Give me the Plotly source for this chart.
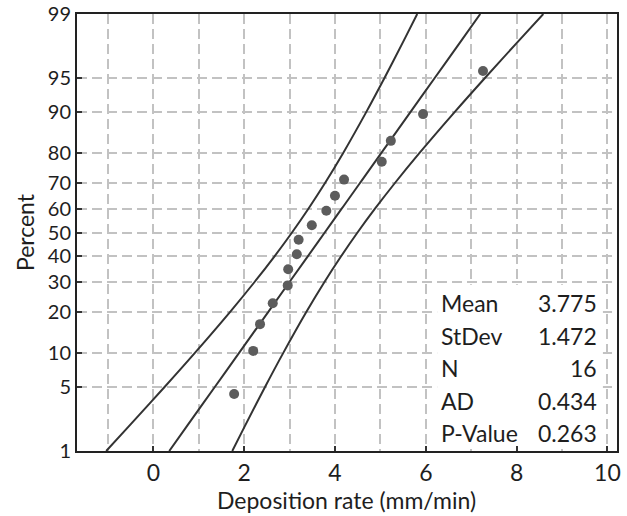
import plotly.graph_objects as go
from statistics import NormalDist

# ---- data ----
rate = [1.78, 2.20, 2.35, 2.63, 2.96, 2.97, 3.16, 3.20, 3.49, 3.81, 4.00, 4.20, 5.03, 5.23, 5.94, 7.26]
pct = [4.27, 10.37, 16.46, 22.56, 28.66, 34.76, 40.85, 46.95, 53.05, 59.15, 65.24, 71.34, 77.44, 83.54, 89.63, 95.73]

band_pct = [1, 2, 5, 10, 20, 30, 40, 50, 60, 70, 80, 90, 95, 98, 99]
fit_x = [0.351, 0.752, 1.354, 1.889, 2.536, 3.003, 3.402, 3.775, 4.148, 4.547, 5.014, 5.661, 6.196, 6.798, 7.199]
lower_x = [-1.037, -0.520, 0.248, 0.916, 1.697, 2.234, 2.669, 3.054, 3.415, 3.778, 4.175, 4.688, 5.090, 5.526, 5.811]
upper_x = [1.739, 2.024, 2.460, 2.862, 3.375, 3.772, 4.135, 4.496, 4.881, 5.316, 5.853, 6.634, 7.302, 8.070, 8.587]

y_ticks = [1, 5, 10, 20, 30, 40, 50, 60, 70, 80, 90, 95, 99]
x_ticks = [0, 2, 4, 6, 8, 10]

stat_names = ["Mean", "StDev", "N", "AD", "P-Value"]
stat_values = ["3.775", "1.472", "16", "0.434", "0.263"]

nd = NormalDist()
def z(p):
    return nd.inv_cdf(p / 100.0)

FONT = "Lato"
TXT = "#1e1e1e"
LINE = "#333333"
GRID = "#c2c2c2"

fig = go.Figure()
for xs in (lower_x, fit_x, upper_x):
    fig.add_trace(go.Scatter(x=xs, y=[z(p) for p in band_pct], mode="lines",
                             line=dict(color=LINE, width=2, shape="spline"),
                             hoverinfo="skip", showlegend=False))
fig.add_trace(go.Scatter(x=rate, y=[z(p) for p in pct], mode="markers",
                         marker=dict(color="#5c5c5c", size=10),
                         showlegend=False))

zlim = z(99)
px_per_z = 437 / (2 * zlim)
eps = 1e-6

# white box behind statistics
fig.add_shape(type="rect", xref="x", yref="y", x0=6.25, x1=9.9,
              y0=-zlim + 6 / px_per_z, y1=-0.556,
              fillcolor="white", line=dict(width=0), layer="above")

rows_y = [303.3, 335.5, 367.8, 401.0, 433.3]
for name, val, py in zip(stat_names, stat_values, rows_y):
    yp = (451 - py) / 437
    fig.add_annotation(text=name, xref="paper", yref="paper", x=(439 - 77) / 540, y=yp,
                       xanchor="left", yanchor="middle", showarrow=False,
                       font=dict(family=FONT, size=23, color=TXT))
    fig.add_annotation(text=val, xref="paper", yref="paper", x=(599 - 77) / 540, y=yp,
                       xanchor="right", yanchor="middle", showarrow=False,
                       font=dict(family=FONT, size=23, color=TXT))

fig.add_annotation(text="Percent", xref="paper", yref="paper", x=(25 - 77) / 540, y=0.501,
                   textangle=-90, xanchor="center", yanchor="middle", showarrow=False,
                   font=dict(family=FONT, size=23, color=TXT))
fig.add_annotation(text="Deposition rate (mm/min)", xref="paper", yref="paper",
                   x=(346 - 77) / 540, y=(451 - 500) / 437,
                   xanchor="center", yanchor="middle", showarrow=False,
                   font=dict(family=FONT, size=23, color=TXT))

fig.update_layout(
    width=627, height=516,
    margin=dict(l=77, r=10, t=14, b=65),
    paper_bgcolor="white", plot_bgcolor="white",
    font=dict(family=FONT, size=22, color=TXT),
    xaxis=dict(range=[-1.68, 10.21], tickvals=x_ticks, ticktext=[str(v) for v in x_ticks],
               showgrid=True, gridcolor=GRID, gridwidth=2, griddash="10px,5px",
               minor=dict(dtick=1, tick0=0, showgrid=True, gridcolor=GRID, gridwidth=2,
                          griddash="10px,5px"),
               ticks="inside", ticklen=5, tickwidth=2, tickcolor=LINE,
               showline=True, linecolor="#222222", linewidth=2, mirror=True,
               zeroline=False, tickfont=dict(size=23), automargin=False),
    yaxis=dict(range=[-zlim - eps, zlim + eps], tickvals=[z(p) for p in y_ticks],
               ticktext=[str(p) for p in y_ticks],
               showgrid=True, gridcolor=GRID, gridwidth=2, griddash="10px,5px",
               ticks="inside", ticklen=5, tickwidth=2, tickcolor=LINE,
               showline=True, linecolor="#222222", linewidth=2, mirror=True,
               zeroline=False, tickfont=dict(size=20), ticklabeloverflow="allow",
               automargin=False),
)

fig.write_html("out.html")
